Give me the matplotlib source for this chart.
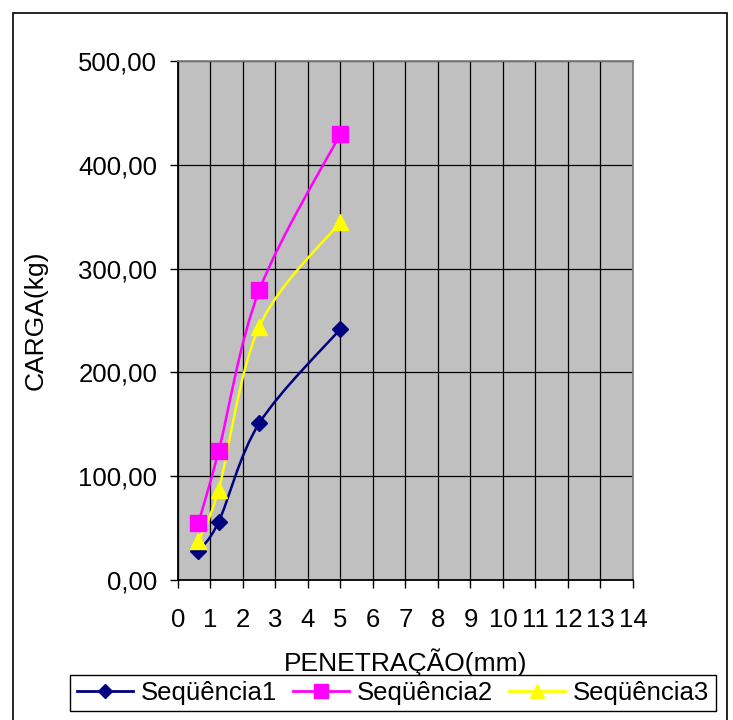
import numpy as np
import matplotlib
matplotlib.use("Agg")
import matplotlib.pyplot as plt
from matplotlib.path import Path
from matplotlib.patches import PathPatch, Rectangle
from matplotlib.lines import Line2D
from matplotlib.ticker import FuncFormatter, MultipleLocator

plt.rcParams['font.family'] = ['Liberation Sans', 'DejaVu Sans']

# data
penetracao = [0.63, 1.25, 2.5, 5.0]
seq1 = [28, 56, 151, 242]
seq2 = [55, 124, 279, 430]
seq3 = [38, 87, 244, 345]
series_names = ['Seqüência1', 'Seqüência2', 'Seqüência3']
colors = ['#000080', '#FF00FF', '#FFFF00']
markers = ['D', 's', '^']
marker_sizes = [8, 11, 11.5]


def smooth_path(xs, ys):
    # Bezier path through the points (Excel style smoothed line)
    pts = np.column_stack([xs, ys]).astype(float)
    verts = [pts[0]]
    codes = [Path.MOVETO]
    n = len(pts)
    for i in range(n - 1):
        p0 = pts[i - 1] if i > 0 else pts[i]
        p1 = pts[i]
        p2 = pts[i + 1]
        p3 = pts[i + 2] if i + 2 < n else pts[i + 1]
        verts += [p1 + (p2 - p0) / 6, p2 - (p3 - p1) / 6, p2]
        codes += [Path.CURVE4] * 3
    return Path(verts, codes)


fig = plt.figure(figsize=(7.33, 7.2), dpi=100)
ax = fig.add_axes([0.2428, 0.1944, 0.6207, 0.7208])
ax.set_facecolor('#C0C0C0')

for ys, c, m, ms in zip([seq1, seq2, seq3], colors, markers, marker_sizes):
    ax.add_patch(PathPatch(smooth_path(penetracao, ys), facecolor='none',
                           edgecolor=c, lw=1.8, zorder=3))
    ax.plot(penetracao, ys, linestyle='none', marker=m, ms=ms,
            color=c, mec=c, zorder=4)

ax.set_xlim(0, 14)
ax.set_ylim(0, 500)
ax.xaxis.set_major_locator(MultipleLocator(1))
ax.yaxis.set_major_locator(MultipleLocator(100))
ax.yaxis.set_major_formatter(FuncFormatter(lambda v, p: f'{v:.2f}'.replace('.', ',')))
ax.grid(True, color='black', lw=0.9)
ax.set_axisbelow(True)

ax.spines['left'].set_color('black')
ax.spines['bottom'].set_color('black')
ax.spines['top'].set_color('#808080')
ax.spines['right'].set_color('#808080')
for s in ax.spines.values():
    s.set_linewidth(1.3)

ax.tick_params(axis='both', direction='out', length=6, width=1, labelsize=18.5)
ax.tick_params(axis='y', pad=9)
ax.tick_params(axis='x', pad=14)

ax.set_ylabel('CARGA(kg)', fontsize=19, labelpad=22)
ax.set_xlabel('PENETRAÇÃO(mm)', fontsize=19, labelpad=12)

handles = [Line2D([], [], color=c, marker=m, ms=ms * 0.9, lw=2, mec=c)
           for c, m, ms in zip(colors, markers, marker_sizes)]
leg = fig.legend(handles, series_names, loc='center', ncol=3,
                 bbox_to_anchor=(393 / 733, 1 - 693 / 720),
                 fontsize=18.5, frameon=True, fancybox=False,
                 edgecolor='black', framealpha=1, handlelength=2.2,
                 handletextpad=0.3, columnspacing=0.6, borderpad=0.25)
leg.get_frame().set_linewidth(1.0)

# outer chart border
fig.patches.append(Rectangle((13 / 733, -0.01), 714 / 733, 1 - 13 / 720 + 0.01,
                             transform=fig.transFigure, fill=False,
                             edgecolor='black', lw=1.2))

fig.savefig('out.png', dpi=100)
